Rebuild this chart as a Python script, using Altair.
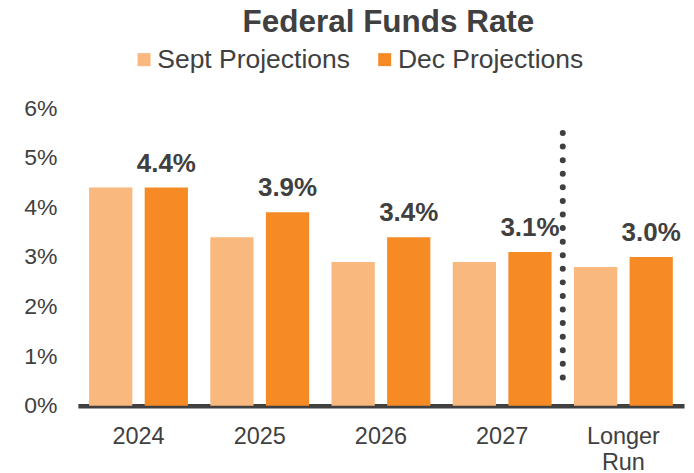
import altair as alt
import pandas as pd

categories = ["2024", "2025", "2026", "2027", "Longer Run"]
sept_values = [4.4, 3.4, 2.9, 2.9, 2.8]
dec_values = [4.4, 3.9, 3.4, 3.1, 3.0]
series_names = ["Sept Projections", "Dec Projections"]
series_colors = ["#F9B87D", "#F68B26"]
y_ticks = [0, 1, 2, 3, 4, 5, 6]
divider_category = ["Longer Run"]
divider_top = [5.5]
divider_bottom = [0.3]

FONT = "Liberation Sans"
TXT = "#404040"

rows = []
for c, s, d in zip(categories, sept_values, dec_values):
    rows.append({"cat": c, "series": series_names[0], "value": s})
    rows.append({"cat": c, "series": series_names[1], "value": d})
df = pd.DataFrame(rows)

div_df = pd.DataFrame({"cat": divider_category, "y1": divider_top, "y2": divider_bottom})

x_scale = alt.Scale(domain=categories, paddingInner=0, paddingOuter=0)
x_enc = alt.X(
    "cat:N",
    scale=x_scale,
    sort=categories,
    axis=alt.Axis(
        title=None,
        labelAngle=0,
        labelFont=FONT,
        labelFontSize=23.5,
        labelColor=TXT,
        labelPadding=19,
        labelBaseline="top",
        labelLineHeight=26,
        labelExpr="datum.label == 'Longer Run' ? ['Longer', 'Run'] : datum.label",
        ticks=False,
        domain=True,
        domainColor=TXT,
        domainWidth=4.5,
        grid=False,
    ),
)
y_scale = alt.Scale(domain=[0, 6], nice=False)

bars = alt.Chart(df).mark_bar().encode(
    x=x_enc,
    xOffset=alt.XOffset(
        "series:N",
        sort=series_names,
        scale=alt.Scale(paddingInner=0.2226, paddingOuter=0.201),
    ),
    y=alt.Y(
        "value:Q",
        scale=y_scale,
        axis=alt.Axis(
            title=None,
            values=y_ticks,
            labelExpr="datum.value + '%'",
            labelFont=FONT,
            labelFontSize=23,
            labelColor=TXT,
            labelPadding=21,
            ticks=False,
            domain=False,
            grid=False,
        ),
    ),
    color=alt.Color(
        "series:N",
        sort=series_names,
        scale=alt.Scale(domain=series_names, range=series_colors),
        legend=alt.Legend(
            title=None,
            orient="none",
            legendX=53,
            legendY=-62,
            direction="horizontal",
            labelFont=FONT,
            labelFontSize=26.5,
            labelColor=TXT,
            labelLimit=400,
            symbolType="square",
            symbolSize=169,
            symbolStrokeWidth=0,
            labelOffset=0,
            columnPadding=21,
            padding=0,
        ),
    ),
)

labels = alt.Chart(df).transform_filter(
    alt.datum.series == series_names[1]
).transform_calculate(
    lbl="format(datum.value, '.1f') + '%'"
).mark_text(
    font=FONT, fontSize=26, fontWeight="bold", color=TXT, baseline="alphabetic", dy=-16
).encode(
    x=alt.X("cat:N", scale=x_scale, sort=categories),
    xOffset=alt.XOffset(
        "series:N",
        sort=series_names,
        scale=alt.Scale(domain=series_names, paddingInner=0.2226, paddingOuter=0.201),
    ),
    y=alt.Y("value:Q", scale=y_scale),
    text="lbl:N",
)

divider = alt.Chart(div_df).mark_rule(
    color=TXT, strokeWidth=6, strokeCap="round", strokeDash=[0, 13.6]
).encode(
    x=alt.X("cat:N", scale=x_scale, sort=categories, bandPosition=0),
    y=alt.Y("y1:Q", scale=y_scale),
    y2="y2:Q",
)

chart = alt.layer(bars, divider, labels).properties(
    width=607,
    height=298,
    autosize=alt.AutoSizeParams(type="none"),
    padding={"left": 70, "top": 100, "right": 2, "bottom": 67},
    title=alt.TitleParams(
        "Federal Funds Rate",
        font=FONT,
        fontSize=31.5,
        fontWeight="bold",
        color=TXT,
        anchor="middle",
        dx=7.5,
        offset=8,
    ),
).configure_view(stroke=None)

chart.save("out.html", embed_options={"renderer": "svg", "actions": False})
